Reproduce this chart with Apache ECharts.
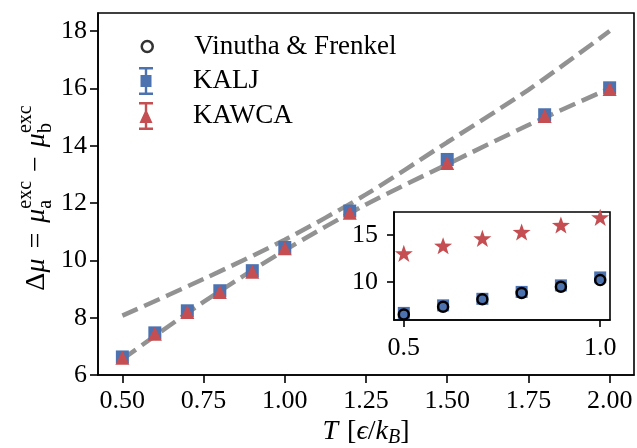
<!DOCTYPE html>
<html>
<head>
<meta charset="utf-8">
<script src="https://cdn.jsdelivr.net/npm/echarts@6/dist/echarts.min.js"></script>
<style>
  html, body { margin: 0; padding: 0; background: #fff; }
  #chart { width: 637px; height: 448px; }
</style>
</head>
<body>
<div id="chart"></div>
<script>
// main panel data
const temps = [0.5, 0.6, 0.7, 0.8, 0.9, 1.0, 1.2, 1.5, 1.8, 2.0]
const kaljVals = [6.63, 7.47, 8.24, 8.94, 9.64, 10.45, 11.72, 13.52, 15.08, 16.02]
const kawcaVals = [6.60, 7.44, 8.20, 8.90, 9.60, 10.42, 11.66, 13.40, 15.04, 15.98]

// the two dashed guide curves
const fitT = [0.5, 0.75, 1.0, 1.25, 1.5, 1.75, 2.0]
const fitUpper = [8.07, 9.35, 10.72, 12.3, 14.12, 15.95, 18.0]
const fitLower = [6.55, 8.55, 10.35, 11.95, 13.35, 14.72, 16.0]

// inset data
const insetT = [0.5, 0.6, 0.7, 0.8, 0.9, 1.0]
const insetStars = [13.04, 13.86, 14.65, 15.33, 16.08, 16.90]
const insetKalj = [6.66, 7.47, 8.17, 8.91, 9.61, 10.46]
const insetVinutha = [6.50, 7.32, 8.11, 8.79, 9.46, 10.18]

// ticks
const xTicks = [0.5, 0.75, 1.0, 1.25, 1.5, 1.75, 2.0]
const yTicks = [6, 8, 10, 12, 14, 16, 18]
const insetXTicks = [0.5, 1.0]
const insetYTicks = [10, 15]

const BLUE = '#4C72B0'
const RED = '#C44E52'
const FONT = '"Liberation Serif", "DejaVu Serif", serif'

const pts = (xs, ys) => xs.map((x, i) => [x, ys[i]])

const STAR = 'path://M0,-10 L2.35,-3.24 L9.51,-3.09 L3.8,1.24 L5.88,8.09 L0,4 L-5.88,8.09 L-3.8,1.24 L-9.51,-3.09 L-2.35,-3.24 Z'
const ERR_SQUARE = 'path://M0,0 H14 V2.4 H8.2 V8 H12.5 V20 H8.2 V25.6 H14 V28 H0 V25.6 H5.8 V20 H1.5 V8 H5.8 V2.4 H0 Z'
const ERR_TRI = 'path://M0,0 H14 V2.4 H8.2 V9.6 L13.5,21 H8.2 V25.6 H14 V28 H0 V25.6 H5.8 V21 H0.5 L5.8,9.6 V2.4 H0 Z'

// build a math-like label out of text pieces (sub/superscripts)
const measureCtx = document.createElement('canvas').getContext('2d')
function mathLabel(parts, cx, cy, rotation) {
  let x = 0, lastStart = 0
  const kids = []
  parts.forEach(p => {
    if (p.gap) { x += p.gap; return }
    const size = p.s || 27
    const style = p.i ? 'italic' : 'normal'
    measureCtx.font = style + ' ' + size + 'px ' + FONT
    const w = measureCtx.measureText(p.t).width
    let px
    if (p.stack) { px = lastStart; x = Math.max(x, lastStart + w) }
    else { px = x; lastStart = x; x += w }
    kids.push({
      type: 'text', x: px, y: p.dy || 0,
      style: { text: p.t, fontFamily: FONT, fontSize: size, fontStyle: style, fill: '#000', verticalAlign: 'middle' }
    })
  })
  kids.forEach(k => { k.x -= x / 2 })
  return { type: 'group', x: cx, y: cy, rotation: rotation || 0, children: kids }
}

const yLabel = mathLabel([
  { t: 'Δ', s: 28 }, { t: 'μ', i: 1, s: 28 }, { gap: 10 }, { t: '=', s: 28 }, { gap: 10 }, { t: 'μ', i: 1, s: 28 },
  { t: 'a', s: 20, dy: 9 }, { t: 'exc', s: 20, dy: -11, stack: 1 },
  { gap: 9 }, { t: '−', s: 28 }, { gap: 9 }, { t: 'μ', i: 1, s: 28 },
  { t: 'b', s: 20, dy: 9 }, { t: 'exc', s: 20, dy: -11, stack: 1 }
], 37, 198, Math.PI / 2)

const xLabel = mathLabel([
  { t: 'T', i: 1, s: 28 }, { gap: 9 }, { t: '[', s: 28 }, { t: 'ϵ', i: 1, s: 28 }, { t: '/', s: 28 }, { t: 'k', i: 1, s: 28 },
  { t: 'B', i: 1, s: 20, dy: 6 }, { t: ']', s: 28 }
], 366, 432, 0)

const axisCommon = {
  axisLine: { show: true, onZero: false, lineStyle: { color: '#000', width: 1.6 } },
  splitLine: { show: false }
}

function legendFor(name, icon, w, h, top, left, pad, itemStyle) {
  return {
    data: [{ name, icon, itemStyle }],
    orient: 'vertical', top, left, padding: 0,
    itemWidth: w, itemHeight: h, selectedMode: false,
    textStyle: { fontFamily: FONT, fontSize: 27, color: '#000', padding: [0, 0, 0, pad] }
  }
}

const chart = echarts.init(document.getElementById('chart'))
chart.setOption({
  animation: false,
  backgroundColor: '#fff',
  grid: [
    { left: 98, top: 13, width: 536, height: 362, show: true, borderColor: '#000', borderWidth: 1.6, backgroundColor: '#fff' },
    { left: 394, top: 212, width: 216, height: 108, show: true, borderColor: '#000', borderWidth: 1.6, backgroundColor: '#fff', z: 5 }
  ],
  xAxis: [
    {
      ...axisCommon, gridIndex: 0, type: 'value', min: 0.425, max: 2.075,
      axisTick: { show: true, length: 8, customValues: xTicks, lineStyle: { color: '#000', width: 1.6 } },
      axisLabel: { customValues: xTicks, formatter: v => v.toFixed(2), fontFamily: FONT, fontSize: 26, color: '#000', margin: 13 }
    },
    {
      ...axisCommon, gridIndex: 1, type: 'value', min: 0.475, max: 1.025, z: 6,
      axisTick: { show: true, length: 7, customValues: insetXTicks, lineStyle: { color: '#000', width: 1.6 } },
      axisLabel: { customValues: insetXTicks, formatter: v => v.toFixed(1), fontFamily: FONT, fontSize: 26, color: '#000', margin: 15 }
    }
  ],
  yAxis: [
    {
      ...axisCommon, gridIndex: 0, type: 'value', min: 6, max: 18.63,
      axisTick: { show: true, length: 8, customValues: yTicks, lineStyle: { color: '#000', width: 1.6 } },
      axisLabel: { customValues: yTicks, fontFamily: FONT, fontSize: 26, color: '#000', margin: 11 }
    },
    {
      ...axisCommon, gridIndex: 1, type: 'value', min: 5.9, max: 17.47, z: 6,
      axisTick: { show: true, length: 7, customValues: insetYTicks, lineStyle: { color: '#000', width: 1.6 } },
      axisLabel: { customValues: insetYTicks, fontFamily: FONT, fontSize: 26, color: '#000', margin: 16 }
    }
  ],
  legend: [
    legendFor('Vinutha & Frenkel', 'circle', 11, 11, 33, 140.5, 36.5, { color: 'rgba(0,0,0,0)', borderColor: '#000', borderWidth: 2.5 }),
    legendFor('KALJ', ERR_SQUARE, 14, 28, 67, 139, 35, { color: BLUE }),
    legendFor('KAWCA', ERR_TRI, 14, 28, 102, 139, 35, { color: RED })
  ],
  graphic: [yLabel, xLabel],
  series: [
    {
      name: 'fit upper', type: 'line', xAxisIndex: 0, yAxisIndex: 0, z: 2,
      data: pts(fitT, fitUpper), showSymbol: false, symbol: 'none', smooth: 0.3,
      lineStyle: { color: '#929292', width: 4.5, type: [17, 7] }
    },
    {
      name: 'fit lower', type: 'line', xAxisIndex: 0, yAxisIndex: 0, z: 2,
      data: pts(fitT, fitLower), showSymbol: false, symbol: 'none', smooth: 0.3,
      lineStyle: { color: '#929292', width: 4.5, type: [17, 7] }
    },
    {
      name: 'Vinutha & Frenkel', type: 'scatter', xAxisIndex: 0, yAxisIndex: 0, data: [],
      itemStyle: { color: 'rgba(0,0,0,0)', borderColor: '#000', borderWidth: 2.5 }
    },
    {
      name: 'KALJ', type: 'scatter', xAxisIndex: 0, yAxisIndex: 0, z: 3,
      data: pts(temps, kaljVals), symbol: 'rect', symbolSize: 13,
      itemStyle: { color: BLUE, opacity: 1 }
    },
    {
      name: 'KAWCA', type: 'scatter', xAxisIndex: 0, yAxisIndex: 0, z: 4,
      data: pts(temps, kawcaVals), symbol: 'triangle', symbolSize: 14,
      itemStyle: { color: RED, opacity: 1 }
    },
    {
      name: 'inset stars', type: 'scatter', xAxisIndex: 1, yAxisIndex: 1, z: 7,
      data: pts(insetT, insetStars), symbol: STAR, symbolSize: 18, symbolKeepAspect: true,
      itemStyle: { color: RED, opacity: 1 }
    },
    {
      name: 'inset KALJ', type: 'scatter', xAxisIndex: 1, yAxisIndex: 1, z: 7,
      data: pts(insetT, insetKalj), symbol: 'rect', symbolSize: 12,
      itemStyle: { color: BLUE, opacity: 1 }
    },
    {
      name: 'inset Vinutha', type: 'scatter', xAxisIndex: 1, yAxisIndex: 1, z: 8,
      data: pts(insetT, insetVinutha), symbol: 'circle', symbolSize: 10,
      itemStyle: { color: 'rgba(0,0,0,0)', borderColor: '#000', borderWidth: 2.5, opacity: 1 }
    }
  ]
})
</script>
</body>
</html>
